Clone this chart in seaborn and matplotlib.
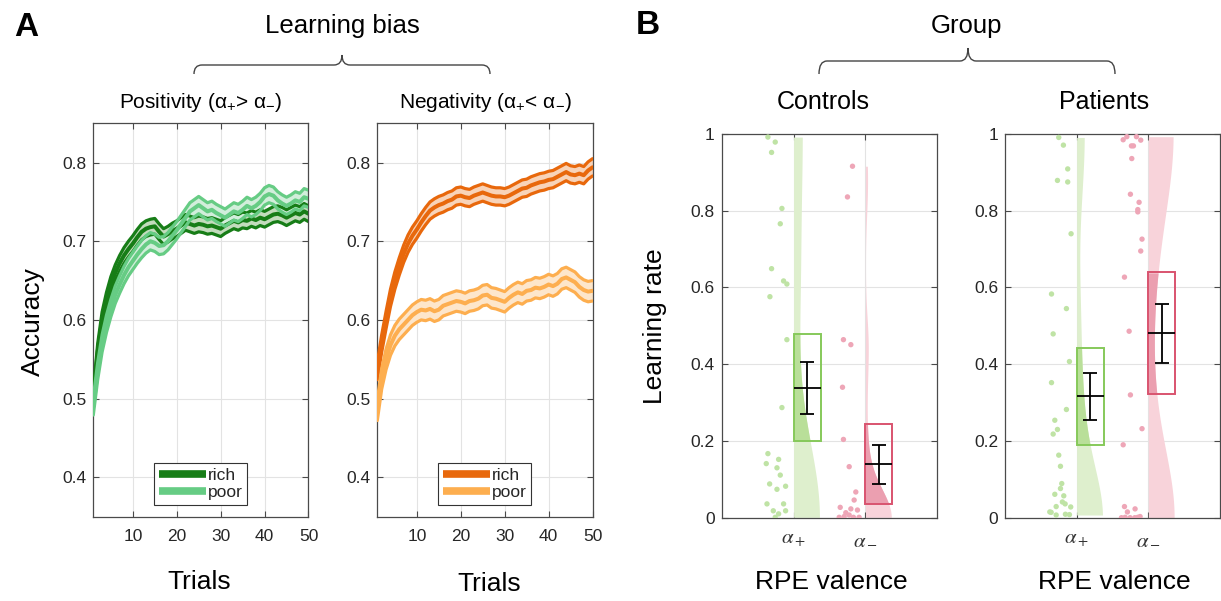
import numpy as np
import pandas as pd
import matplotlib
matplotlib.use("Agg")
import matplotlib.pyplot as plt
import seaborn as sns
from matplotlib.lines import Line2D
from matplotlib.patches import Rectangle, PathPatch
from matplotlib.path import Path

# ---------------- data: panel A (accuracy learning curves) ----------------
trials = list(range(1, 51))
pos_rich = [0.500, 0.560, 0.600, 0.625, 0.645, 0.660, 0.672, 0.682, 0.690, 0.697,
            0.705, 0.712, 0.716, 0.718, 0.719, 0.712, 0.706, 0.709, 0.713, 0.716,
            0.720, 0.724, 0.722, 0.720, 0.722, 0.721, 0.719, 0.720, 0.718, 0.716,
            0.720, 0.723, 0.726, 0.724, 0.727, 0.726, 0.729, 0.727, 0.730, 0.728,
            0.731, 0.734, 0.735, 0.733, 0.730, 0.733, 0.736, 0.734, 0.738, 0.735]
pos_poor = [0.490, 0.535, 0.570, 0.595, 0.615, 0.632, 0.645, 0.657, 0.667, 0.675,
            0.683, 0.690, 0.696, 0.700, 0.698, 0.694, 0.695, 0.700, 0.707, 0.714,
            0.722, 0.730, 0.738, 0.742, 0.746, 0.742, 0.738, 0.740, 0.736, 0.733,
            0.730, 0.734, 0.738, 0.736, 0.740, 0.745, 0.742, 0.745, 0.750, 0.757,
            0.760, 0.758, 0.752, 0.748, 0.745, 0.748, 0.752, 0.750, 0.756, 0.754]
neg_rich = [0.535, 0.570, 0.600, 0.628, 0.650, 0.668, 0.684, 0.697, 0.707, 0.715,
            0.724, 0.732, 0.739, 0.743, 0.746, 0.748, 0.751, 0.753, 0.757, 0.758,
            0.756, 0.755, 0.758, 0.760, 0.762, 0.760, 0.758, 0.757, 0.757, 0.756,
            0.758, 0.761, 0.764, 0.767, 0.768, 0.771, 0.773, 0.775, 0.776, 0.778,
            0.779, 0.782, 0.785, 0.788, 0.785, 0.784, 0.786, 0.784, 0.790, 0.794]
neg_poor = [0.485, 0.525, 0.550, 0.568, 0.580, 0.588, 0.594, 0.600, 0.606, 0.610,
            0.613, 0.612, 0.614, 0.611, 0.613, 0.618, 0.620, 0.622, 0.624, 0.623,
            0.621, 0.624, 0.625, 0.627, 0.631, 0.632, 0.628, 0.627, 0.625, 0.623,
            0.628, 0.632, 0.635, 0.633, 0.637, 0.638, 0.641, 0.640, 0.642, 0.645,
            0.643, 0.646, 0.652, 0.654, 0.651, 0.648, 0.642, 0.638, 0.636, 0.637]
sem_pos_rich = 0.010
sem_pos_poor = 0.011
sem_neg_rich = 0.011
sem_neg_poor = 0.013
legend_labels = ["rich", "poor"]

# ---------------- data: panel B (learning rates) ----------------
valence_labels = [r"$\alpha_+$", r"$\alpha_-$"]
ctrl_pos = [0.992, 0.979, 0.952, 0.806, 0.766, 0.649, 0.617, 0.609, 0.576, 0.464,
            0.287, 0.167, 0.141, 0.152, 0.130, 0.111, 0.088, 0.082, 0.074, 0.036,
            0.036, 0.018, 0.018, 0.010, 0.001]
ctrl_pos_jit = [-0.357, -0.255, -0.306, -0.162, -0.185, -0.306, -0.139, -0.093, -0.329, -0.093,
                -0.162, -0.357, -0.380, -0.208, -0.231, -0.185, -0.333, -0.111, -0.231, -0.370,
                -0.139, -0.111, -0.282, -0.208, -0.255]
ctrl_neg = [0.916, 0.836, 0.464, 0.451, 0.340, 0.204, 0.133, 0.067, 0.046, 0.027,
            0.023, 0.013, 0.020, 0.001, 0.003, 0.001, 0.001, 0.007]
ctrl_neg_jit = [-0.180, -0.250, -0.306, -0.203, -0.319, -0.306, -0.226, -0.134, -0.157, -0.351,
                -0.203, -0.273, -0.111, -0.365, -0.296, -0.167, -0.088, -0.226]
pat_pos = [0.991, 0.971, 0.909, 0.879, 0.875, 0.740, 0.583, 0.545, 0.479, 0.407,
           0.352, 0.282, 0.254, 0.230, 0.218, 0.163, 0.134, 0.089, 0.076, 0.057,
           0.061, 0.041, 0.036, 0.029, 0.028, 0.015, 0.014, 0.009, 0.008, 0.007]
pat_pos_jit = [-0.250, -0.185, -0.125, -0.268, -0.125, -0.078, -0.351, -0.143, -0.328, -0.101,
               -0.351, -0.143, -0.305, -0.268, -0.328, -0.250, -0.226, -0.208, -0.226, -0.180,
               -0.305, -0.199, -0.161, -0.286, -0.083, -0.375, -0.356, -0.157, -0.101, -0.286]
pat_neg = [0.985, 0.993, 0.993, 0.984, 0.969, 0.969, 0.936, 0.843, 0.822, 0.803,
           0.797, 0.726, 0.695, 0.627, 0.486, 0.320, 0.232, 0.190, 0.029, 0.023,
           0.015, 0.000, 0.001, 0.000, 0.000, 0.001, 0.003]
pat_neg_jit = [-0.351, -0.300, -0.166, -0.106, -0.236, -0.208, -0.231, -0.250, -0.129, -0.147,
               -0.147, -0.088, -0.106, -0.333, -0.268, -0.250, -0.088, -0.351, -0.333, -0.185,
               -0.292, -0.375, -0.324, -0.254, -0.189, -0.147, -0.115]
# box (lo, hi), mean, error bar (lo, hi)
ctrl_box_lo = [0.199, 0.037]
ctrl_box_hi = [0.479, 0.243]
ctrl_mean = [0.339, 0.140]
ctrl_err_lo = [0.270, 0.089]
ctrl_err_hi = [0.407, 0.190]
pat_box_lo = [0.189, 0.323]
pat_box_hi = [0.442, 0.640]
pat_mean = [0.316, 0.482]
pat_err_lo = [0.254, 0.404]
pat_err_hi = [0.378, 0.558]

# ---------------- style ----------------
sns.set_theme(style="white")
plt.rcParams["font.family"] = ["Liberation Sans", "DejaVu Sans"]
plt.rcParams["mathtext.fontset"] = "custom"
plt.rcParams["mathtext.rm"] = "Liberation Sans"
plt.rcParams["mathtext.it"] = "Liberation Sans:italic"
plt.rcParams["mathtext.bf"] = "Liberation Sans:bold"

W, H = 1221, 601
fig = plt.figure(figsize=(W / 100, H / 100), dpi=100)
fig.patch.set_facecolor("white")


def px_axes(l, t, r, b):
    return fig.add_axes([l / W, 1 - b / H, (r - l) / W, (b - t) / H])


def ftext(x, y, s, **kw):
    kw.setdefault("ha", "center")
    kw.setdefault("va", "center")
    kw.setdefault("color", "black")
    return fig.text(x / W, 1 - y / H, s, **kw)


def style_axis(ax):
    ax.set_facecolor("white")
    for sp in ax.spines.values():
        sp.set_visible(True)
        sp.set_color("#4a4a4a")
        sp.set_linewidth(0.9)
    ax.grid(True, color="#e3e3e3", lw=0.8)
    ax.set_axisbelow(True)
    ax.tick_params(direction="in", length=4, width=0.8, color="#4a4a4a",
                   top=True, right=True, bottom=True, left=True,
                   labelsize=12.5, labelcolor="#262626")


axA1 = px_axes(93.3, 123.3, 308.5, 516.5)
axA2 = px_axes(377.3, 123.3, 592.5, 516.5)
axB1 = px_axes(721.7, 134, 937.3, 517.7)
axB2 = px_axes(1005, 134, 1220, 517.7)


def draw_curves(ax, rich, poor, s_rich, s_poor, cols, fills):
    for vals, s, c, f in [(rich, s_rich, cols[0], fills[0]), (poor, s_poor, cols[1], fills[1])]:
        v = np.asarray(vals)
        lo, hi = v - s, v + s
        ax.fill_between(trials, lo, hi, color=f, lw=0, zorder=2)
        sns.lineplot(x=trials, y=lo, ax=ax, color=c, lw=2.3, legend=False, zorder=3)
        sns.lineplot(x=trials, y=hi, ax=ax, color=c, lw=2.3, legend=False, zorder=3)
        sns.lineplot(x=trials, y=v, ax=ax, color=c, lw=2.9, legend=False, zorder=3)
    ax.set_xlim(1, 50)
    ax.set_ylim(0.35, 0.85)
    ax.set_xticks([10, 20, 30, 40, 50])
    ax.set_yticks([0.4, 0.5, 0.6, 0.7, 0.8])
    ax.set_yticklabels(["0.4", "0.5", "0.6", "0.7", "0.8"])
    ax.set_xlabel("")
    ax.set_ylabel("")
    ax.tick_params(axis="x", pad=9)
    ax.tick_params(axis="y", pad=5)
    handles = [Line2D([0], [0], color=cols[0], lw=5.5, solid_capstyle="butt"),
               Line2D([0], [0], color=cols[1], lw=5.5, solid_capstyle="butt")]
    leg = ax.legend(handles, legend_labels, loc="lower center", bbox_to_anchor=(0.5, 0.03),
                    fontsize=12.5, frameon=True, fancybox=False, framealpha=1,
                    handlelength=2.7, handletextpad=0.15, borderpad=0.25,
                    labelspacing=0.15, borderaxespad=0)
    leg.get_frame().set_edgecolor("#333333")
    leg.get_frame().set_linewidth(0.8)


for ax in (axA1, axA2):
    style_axis(ax)
draw_curves(axA1, pos_rich, pos_poor, sem_pos_rich, sem_pos_poor,
            ["#177d17", "#66cc84"], ["#c3dcbd", "#d2eedb"])
draw_curves(axA2, neg_rich, neg_poor, sem_neg_rich, sem_neg_poor,
            ["#e8680c", "#fdae4f"], ["#f8d3b8", "#fde6cb"])


def kde(values, grid, bw):
    v = np.asarray(values)
    allv = np.concatenate([v, -v, 2 - v])
    return np.exp(-0.5 * ((grid[:, None] - allv[None, :]) / bw) ** 2).sum(axis=1)


def draw_rain(ax, groups):
    for i, g in enumerate(groups):
        tick = i + 1
        vals = np.asarray(g["vals"])
        grid = np.linspace(vals.min(), vals.max(), 300)
        d = kde(vals, grid, g["bw"])
        width = d / d.max() * 0.36
        ax.fill_betweenx(grid, tick, tick + width, color=g["light"], lw=0, zorder=1)
        m = (grid >= g["box"][0]) & (grid <= g["box"][1])
        ax.fill_betweenx(grid[m], tick, tick + width[m], color=g["dark"], lw=0, zorder=2)
        sns.scatterplot(x=tick + np.asarray(g["jit"]), y=vals, ax=ax, color=g["pt"],
                        s=15, edgecolor="none", legend=False, zorder=3)
        bw_ = 0.375
        ax.add_patch(Rectangle((tick, g["box"][0]), bw_, g["box"][1] - g["box"][0],
                               fill=False, ec=g["edge"], lw=1.4, zorder=4))
        xc = tick + bw_ / 2
        ax.hlines(g["mean"], tick, tick + bw_, color="black", lw=1.3, zorder=5)
        ax.errorbar([xc], [g["mean"]], yerr=[[g["mean"] - g["err"][0]], [g["err"][1] - g["mean"]]],
                    fmt="none", ecolor="black", elinewidth=1.3, capsize=5, capthick=1.3, zorder=5)
    ax.set_xlim(0, 3)
    ax.set_ylim(0, 1)
    ax.set_xticks([1, 2])
    ax.set_xticklabels(valence_labels, fontsize=15, color="#333333")
    for lab in ax.get_xticklabels():
        lab.set_math_fontfamily("stix")
    ax.set_yticks([0, 0.2, 0.4, 0.6, 0.8, 1])
    ax.set_yticklabels(["0", "0.2", "0.4", "0.6", "0.8", "1"])
    ax.tick_params(axis="x", pad=9)
    ax.tick_params(axis="y", pad=5)
    ax.set_xlabel("")
    ax.set_ylabel("")


green = dict(light="#deefcd", dark="#b9df99", edge="#86c95a", pt="#bfe3a5")
pink = dict(light="#f8d3da", dark="#eb9fb0", edge="#d9536f", pt="#eea6b7")

for ax in (axB1, axB2):
    style_axis(ax)

draw_rain(axB1, [
    dict(vals=ctrl_pos, jit=ctrl_pos_jit, bw=0.17, box=(ctrl_box_lo[0], ctrl_box_hi[0]),
         mean=ctrl_mean[0], err=(ctrl_err_lo[0], ctrl_err_hi[0]), **green),
    dict(vals=ctrl_neg, jit=ctrl_neg_jit, bw=0.07, box=(ctrl_box_lo[1], ctrl_box_hi[1]),
         mean=ctrl_mean[1], err=(ctrl_err_lo[1], ctrl_err_hi[1]), **pink),
])
draw_rain(axB2, [
    dict(vals=pat_pos, jit=pat_pos_jit, bw=0.12, box=(pat_box_lo[0], pat_box_hi[0]),
         mean=pat_mean[0], err=(pat_err_lo[0], pat_err_hi[0]), **green),
    dict(vals=pat_neg, jit=pat_neg_jit, bw=0.17, box=(pat_box_lo[1], pat_box_hi[1]),
         mean=pat_mean[1], err=(pat_err_lo[1], pat_err_hi[1]), **pink),
])

# ---------------- text ----------------
ftext(26, 28, "A", fontsize=24, fontweight="bold")
ftext(648, 26, "B", fontsize=24, fontweight="bold")
ftext(342, 26, "Learning bias", fontsize=18.5)
ftext(967, 26, "Group", fontsize=18.5)
ftext(201, 103, "Positivity (α$_{+}$> α$_{-}$)", fontsize=15)
ftext(485, 103, "Negativity (α$_{+}$< α$_{-}$)", fontsize=15)
ftext(823, 102, "Controls", fontsize=18)
ftext(1104, 102, "Patients", fontsize=18)
ftext(199, 582, "Trials", fontsize=19)
ftext(489, 584, "Trials", fontsize=19)
ftext(831, 582, "RPE valence", fontsize=19)
ftext(1114, 582, "RPE valence", fontsize=19)
ftext(33, 322, "Accuracy", fontsize=19, rotation=90)
ftext(655, 326, "Learning rate", fontsize=19, rotation=90)


def brace(xl, xr, xc, yh, ye, yc, r=8):
    pts = [(xl, ye), (xl, yh), (xl + r, yh), (xc - r, yh), (xc, yh), (xc, yc),
           (xc, yh), (xc + r, yh), (xr - r, yh), (xr, yh), (xr, ye)]
    codes = [Path.MOVETO, Path.CURVE3, Path.CURVE3, Path.LINETO, Path.CURVE3, Path.CURVE3,
             Path.CURVE3, Path.CURVE3, Path.LINETO, Path.CURVE3, Path.CURVE3]
    verts = [(x / W, 1 - y / H) for x, y in pts]
    fig.add_artist(PathPatch(Path(verts, codes), transform=fig.transFigure,
                             fill=False, ec="#444444", lw=1.0))


brace(194, 490, 342, 65, 74, 55)
brace(819, 1115, 968, 61, 74, 48)

fig.savefig("out.png", dpi=100, facecolor="white")
